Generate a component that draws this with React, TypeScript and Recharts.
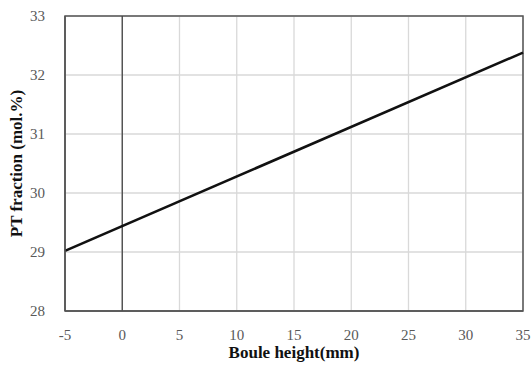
import { CartesianGrid, Line, LineChart, ReferenceArea, ReferenceLine, XAxis, YAxis } from 'recharts';

const heights = [-5, 35];
const ptFraction = [29.02, 32.38];
const xTicks = [-5, 0, 5, 10, 15, 20, 25, 30, 35];
const yTicks = [28, 29, 30, 31, 32, 33];

const data = heights.map((h, i) => ({ height: h, pt: ptFraction[i] }));

const font = '"Liberation Serif", "Times New Roman", serif';

const App: React.FC = () => {
  return (
    <div style={{ position: 'absolute', left: 0, top: 0, width: 531, height: 370, background: 'white' }}>
      <LineChart width={531} height={370} data={data} margin={{ top: 16, right: 8, left: 0, bottom: 0 }}>
        <CartesianGrid stroke="#d9d9d9" strokeWidth={1.3} />
        <XAxis
          dataKey="height"
          type="number"
          domain={[-5, 35]}
          ticks={xTicks}
          height={59}
          axisLine={{ stroke: '#555', strokeWidth: 1.5 }}
          tickLine={false}
          tickMargin={12}
          tick={{ fontSize: 15, fill: '#595959', fontFamily: font }}
          label={{
            value: 'Boule height(mm)',
            position: 'insideBottom',
            offset: 12,
            style: { fontSize: 17, fontWeight: 'bold', fill: '#111', fontFamily: font }
          }}
        />
        <YAxis
          type="number"
          domain={[28, 33]}
          ticks={yTicks}
          width={65}
          axisLine={{ stroke: '#555', strokeWidth: 1.5 }}
          tickLine={false}
          tickMargin={14}
          tick={{ fontSize: 15, fill: '#595959', fontFamily: font }}
          label={{
            value: 'PT fraction (mol.%)',
            angle: -90,
            position: 'insideLeft',
            offset: 16,
            style: { fontSize: 17, fontWeight: 'bold', fill: '#111', fontFamily: font, textAnchor: 'middle' }
          }}
        />
        <ReferenceArea x1={-5} x2={35} y1={28} y2={33} fill="none" stroke="#555" strokeWidth={1.5} ifOverflow="visible" />
        <ReferenceLine x={0} stroke="#444" strokeWidth={1.3} />
        <Line
          type="linear"
          dataKey="pt"
          stroke="#111"
          strokeWidth={2.6}
          dot={false}
          isAnimationActive={false}
        />
      </LineChart>
    </div>
  );
};

export default App;
